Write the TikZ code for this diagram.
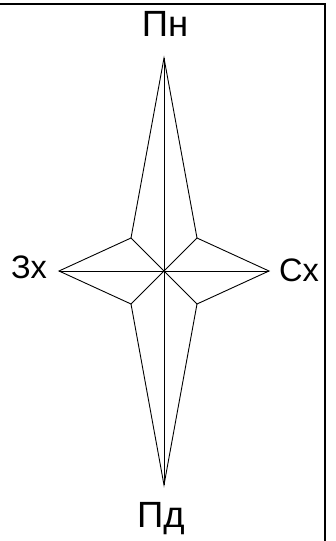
\documentclass[tikz,border=0pt]{standalone}
\usepackage{fontspec}
\setmainfont{Liberation Sans}
\begin{document}
\begin{tikzpicture}[x=1pt,y=-1pt,
  starline/.style={line width=0.9pt,line join=miter},
  frameline/.style={line width=1.3pt},
  biglabel/.style={inner sep=0pt,anchor=base,font=\fontsize{36.5}{36.5}\selectfont},
  sidelabel/.style={inner sep=0pt,anchor=base,font=\fontsize{32.5}{32.5}\selectfont}]
\useasboundingbox (0,0) rectangle (336,541);
% frame (clipped: only top and right sides visible)
\coordinate (ftl) at (0,4);
\coordinate (ftr) at (325,4);
\coordinate (fbr) at (325,541);
\draw[frameline] (ftl) -- (ftr) -- (fbr);
% star points
\coordinate (C) at (164,271);
\coordinate (N) at (164,58);
\coordinate (S) at (164,485);
\coordinate (W) at (59,271);
\coordinate (E) at (269,271);
\coordinate (NW) at (131,238);
\coordinate (NE) at (197,238);
\coordinate (SW) at (131,304);
\coordinate (SE) at (197,304);
\draw[starline] (N) -- (NE) -- (E) -- (SE) -- (S) -- (SW) -- (W) -- (NW) -- cycle;
\draw[starline] (N) -- (S);
\draw[starline] (W) -- (E);
\draw[starline] (NW) -- (SE);
\draw[starline] (NE) -- (SW);
% labels
\node[biglabel] (pn) at (165,36.5) {Пн};
\node[biglabel] (pd) at (161,527) {Пд};
\node[sidelabel] (zx) at (29,278.5) {Зх};
\node[sidelabel] (sx) at (299,281) {Сх};
\end{tikzpicture}
\end{document}
